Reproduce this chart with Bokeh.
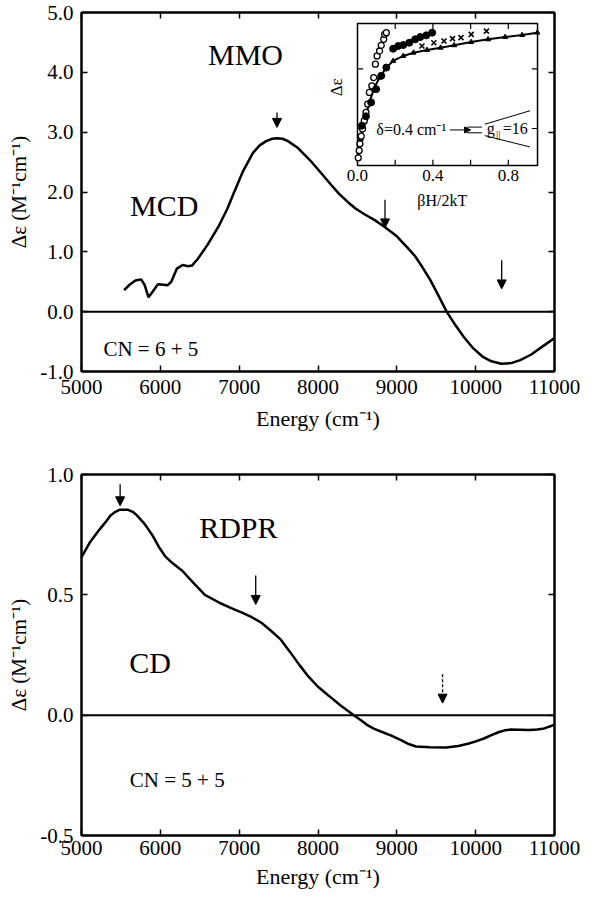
from bokeh.plotting import figure
from bokeh.models import (Range1d, LinearAxis, FixedTicker, Span, Arrow, NormalHead,
                          Label, ColumnDataSource, NumeralTickFormatter)
from bokeh.layouts import column
from bokeh.embed import file_html
from bokeh.resources import INLINE
from bokeh.core.properties import value

FONT = "Liberation Serif"

# ---------------- data ----------------
energy_ticks = [5000, 6000, 7000, 8000, 9000, 10000, 11000]

# MMO MCD spectrum
mcd_x = [5540, 5610, 5684, 5756, 5800, 5850, 5895, 5971, 6043, 6091, 6139, 6210, 6282, 6354, 6402,
         6474, 6600, 6737, 6850, 6928, 7050, 7173, 7260, 7342, 7420, 7480, 7550, 7620, 7750,
         7900, 8050, 8160, 8268, 8380, 8480, 8600, 8720, 8842, 9000, 9129, 9230, 9321, 9420,
         9512, 9632, 9740, 9847, 9960, 10086, 10200, 10325, 10450, 10565, 10700, 10850, 11000]
mcd_y = [0.36, 0.45, 0.52, 0.54, 0.45, 0.24, 0.32, 0.46, 0.45, 0.44, 0.50, 0.72, 0.78, 0.76, 0.77,
         0.88, 1.12, 1.42, 1.72, 1.97, 2.35, 2.65, 2.78, 2.85, 2.89, 2.90, 2.89, 2.85, 2.73,
         2.53, 2.30, 2.13, 1.97, 1.83, 1.72, 1.62, 1.53, 1.42, 1.26, 1.08, 0.93, 0.75, 0.54,
         0.31, 0.00, -0.22, -0.42, -0.60, -0.75, -0.83, -0.87, -0.86, -0.81, -0.72, -0.58, -0.44]
mcd_yticks = [-1.0, 0.0, 1.0, 2.0, 3.0, 4.0, 5.0]
mcd_arrow_x = [7480, 8850, 10330]
mcd_arrow_top = [3.33, 1.87, 0.86]
mcd_arrow_tip = [3.08, 1.40, 0.38]

# inset (saturation magnetization)
inset_xticks = [0.2, 0.4, 0.6, 0.8]
inset_xlabels = ["0.0", "0.4", "0.8"]
inset_xlabel_pos = [0.0, 0.4, 0.8]
inset_yticks = [0.26, 0.68]
open_x = [0.004, 0.009, 0.013, 0.020, 0.027, 0.036, 0.045, 0.054, 0.063, 0.076, 0.086, 0.095,
          0.104, 0.117, 0.126, 0.139, 0.144, 0.153]
open_y = [0.054, 0.105, 0.152, 0.206, 0.257, 0.315, 0.374, 0.432, 0.514, 0.561, 0.619, 0.713,
          0.771, 0.806, 0.846, 0.888, 0.923, 0.935]
fill_x = [0.023, 0.045, 0.072, 0.099, 0.126, 0.153, 0.189, 0.216, 0.243, 0.275, 0.306, 0.333,
          0.365, 0.396]
fill_y = [0.280, 0.346, 0.444, 0.537, 0.631, 0.689, 0.822, 0.841, 0.848, 0.864, 0.888, 0.904,
          0.916, 0.935]
cross_x = [0.342, 0.405, 0.459, 0.504, 0.549, 0.603, 0.684]
cross_y = [0.841, 0.864, 0.876, 0.893, 0.900, 0.923, 0.946]
fit_x = [0.004, 0.018, 0.036, 0.063, 0.090, 0.117, 0.153, 0.189, 0.243, 0.297, 0.369, 0.441,
         0.513, 0.603, 0.693, 0.783, 0.873, 0.954]
fit_y = [0.058, 0.187, 0.304, 0.444, 0.549, 0.619, 0.689, 0.736, 0.771, 0.794, 0.813, 0.829,
         0.846, 0.869, 0.888, 0.904, 0.918, 0.935]

# RDPR CD spectrum
cd_x = [5000, 5110, 5225, 5300, 5368, 5430, 5488, 5584, 5650, 5703, 5800, 5895, 5980, 6062,
        6160, 6278, 6420, 6565, 6756, 6900, 7043, 7160, 7282, 7400, 7522, 7640, 7761, 7880,
        8000, 8140, 8287, 8455, 8540, 8622, 8713, 8813, 8930, 9053, 9150, 9244, 9420, 9627,
        9780, 9914, 10010, 10105, 10200, 10297, 10370, 10440, 10560, 10679, 10780, 10871, 11000]
cd_y = [0.657, 0.72, 0.77, 0.80, 0.83, 0.845, 0.854, 0.854, 0.845, 0.83, 0.795, 0.75, 0.70,
        0.66, 0.63, 0.60, 0.55, 0.50, 0.466, 0.445, 0.425, 0.407, 0.384, 0.352, 0.316, 0.265,
        0.21, 0.16, 0.118, 0.08, 0.04, 0.0, -0.02, -0.04, -0.057, -0.07, -0.085, -0.104,
        -0.12, -0.13, -0.133, -0.134, -0.128, -0.118, -0.108, -0.097, -0.083, -0.07, -0.063,
        -0.06, -0.061, -0.062, -0.06, -0.055, -0.04]
cd_yticks = [-0.5, 0.0, 0.5, 1.0]
cd_arrow_x = [5490, 7210, 9580]
cd_arrow_top = [0.96, 0.58, 0.17]
cd_arrow_tip = [0.87, 0.46, 0.05]


def base_fig(y0, y1, yticks, frame_h, top, bottom, tick_std, lab_std):
    p = figure(frame_width=473, frame_height=frame_h,
               x_range=Range1d(5000, 11000), y_range=Range1d(y0, y1),
               output_backend="svg", toolbar_location=None,
               min_border_left=81, min_border_right=26,
               min_border_top=top, min_border_bottom=bottom)
    p.grid.visible = False
    p.outline_line_color = "black"
    p.outline_line_width = 2
    p.background_fill_color = "white"
    p.border_fill_color = "white"
    p.xaxis.ticker = FixedTicker(ticks=energy_ticks)
    p.yaxis.ticker = FixedTicker(ticks=yticks)
    p.yaxis.formatter = NumeralTickFormatter(format="0.0")
    for ax in (p.xaxis[0], p.yaxis[0]):
        ax.axis_line_width = 2
        ax.axis_line_color = "black"
        ax.major_tick_in = 6
        ax.major_tick_out = 0
        ax.major_tick_line_width = 1.5
        ax.major_tick_line_color = "black"
        ax.minor_tick_line_color = None
        ax.major_label_text_font = FONT
        ax.major_label_text_font_size = "21px"
        ax.major_label_text_color = "black"
        ax.axis_label_text_font = FONT
        ax.axis_label_text_font_style = "normal"
        ax.axis_label_text_color = "black"
    p.xaxis.major_label_standoff = tick_std
    p.xaxis.axis_label = "Energy (cm\u207b\u00b9)"
    p.xaxis.axis_label_text_font_size = "22px"
    p.xaxis.axis_label_standoff = lab_std
    p.yaxis.major_label_standoff = 8
    p.yaxis.axis_label = "\u0394\u03b5 (M\u207b\u00b9cm\u207b\u00b9)"
    p.yaxis.axis_label_text_font_size = "21px"
    p.yaxis.axis_label_standoff = 6
    # mirrored tick axes (top / right), labels hidden
    top_ax = LinearAxis(ticker=FixedTicker(ticks=energy_ticks))
    right_ax = LinearAxis(ticker=FixedTicker(ticks=yticks))
    for ax in (top_ax, right_ax):
        ax.axis_line_width = 2
        ax.axis_line_color = "black"
        ax.major_tick_in = 6
        ax.major_tick_out = 0
        ax.major_tick_line_width = 1.5
        ax.major_tick_line_color = "black"
        ax.minor_tick_line_color = None
        ax.major_label_text_font_size = "1px"
        ax.major_label_text_alpha = 0
        ax.major_label_standoff = 0
    p.add_layout(top_ax, "above")
    p.add_layout(right_ax, "right")
    p.add_layout(Span(location=0, dimension="width", line_color="black", line_width=2))
    return p


def add_arrows(p, xs, tops, tips, dashes):
    for x, t, e, d in zip(xs, tops, tips, dashes):
        p.add_layout(Arrow(x_start=x, y_start=t, x_end=x, y_end=e,
                           line_width=1.3, line_color="black", line_dash=d,
                           end=NormalHead(size=9, fill_color="black", line_color="black")))


def lab(p, x, y, text, size, align="center", **kw):
    p.add_layout(Label(x=x, y=y, text=text, text_font=FONT, text_font_size=size,
                       text_align=align, text_baseline="middle", text_color="black", **kw))


# ---------------- top figure: MMO MCD ----------------
p1 = base_fig(-1.0, 5.0, mcd_yticks, 359, 12, 69, 8, 9)
p1.line(mcd_x, mcd_y, line_color="black", line_width=2.5)
add_arrows(p1, mcd_arrow_x, mcd_arrow_top, mcd_arrow_tip, ["solid"] * 3)
lab(p1, 7080, 4.30, "MMO", "30px")
lab(p1, 6050, 1.78, "MCD", "30px")
lab(p1, 5880, -0.62, "CN = 6 + 5", "21px")

# inset in its own coordinate system
p1.extra_x_ranges = {"ix": Range1d(-1.464, 1.045)}
p1.extra_y_ranges = {"iy": Range1d(-1.451, 1.077)}
ik = dict(x_range_name="ix", y_range_name="iy")
tk = dict(text_font=value(FONT), text_color="black")
p1.quad(left=[0], right=[0.955], bottom=[0], top=[1], fill_color="white",
        line_color="black", line_width=1.5, **ik)
p1.segment(x0=inset_xticks, x1=inset_xticks, y0=[0] * 4, y1=[0.04] * 4,
           line_color="black", line_width=1.2, **ik)
p1.segment(x0=inset_xticks, x1=inset_xticks, y0=[1] * 4, y1=[0.96] * 4,
           line_color="black", line_width=1.2, **ik)
p1.segment(x0=[0.955] * 2, x1=[0.925] * 2, y0=inset_yticks, y1=inset_yticks,
           line_color="black", line_width=1.2, **ik)
p1.segment(x0=[0] * 2, x1=[0.03] * 2, y0=inset_yticks, y1=inset_yticks,
           line_color="black", line_width=1.2, **ik)
p1.text(x=inset_xlabel_pos, y=[-0.03] * 3, text=inset_xlabels,
        text_font_size="17px", text_align="center", text_baseline="top", **tk, **ik)
p1.text(x=[0.45], y=[-0.19], text=["\u03b2H/2kT"],
        text_font_size="16px", text_align="center", text_baseline="top", **tk, **ik)
p1.text(x=[-0.06], y=[0.55], text=["\u0394\u03b5"],
        text_font_size="17px", text_align="center", text_baseline="bottom",
        angle=1.5708, **tk, **ik)
p1.line(fit_x, fit_y, line_color="black", line_width=2, **ik)
p1.scatter(fit_x, fit_y, marker="triangle", size=5, fill_color="black", line_color="black", **ik)
p1.scatter(open_x, open_y, marker="circle", size=6, fill_color="white", line_color="black",
           line_width=1.3, **ik)
p1.scatter(fill_x, fill_y, marker="circle", size=7, fill_color="black", line_color="black", **ik)
p1.scatter(cross_x, cross_y, marker="x", size=7, line_color="black", line_width=1.6, **ik)
p1.text(x=[0.10], y=[0.25], text=["\u03b4=0.4 cm\u207b\u00b9"],
        text_font_size="16px", text_align="left", text_baseline="middle", **tk, **ik)
p1.add_layout(Arrow(x_start=0.49, y_start=0.25, x_end=0.60, y_end=0.25, line_width=1,
                    line_color="black",
                    end=NormalHead(size=6, fill_color="black", line_color="black"), **ik))
p1.segment(x0=[0.58, 0.58], x1=[0.66, 0.66], y0=[0.27, 0.23], y1=[0.27, 0.23],
           line_color="black", line_width=1, **ik)
p1.segment(x0=[0.675, 0.675], x1=[0.915, 0.915], y0=[0.29, 0.21], y1=[0.385, 0.13],
           line_color="black", line_width=1, **ik)
p1.text(x=[0.685], y=[0.26], text=["g"], text_font_size="16px",
        text_align="left", text_baseline="middle", **tk, **ik)
p1.text(x=[0.735], y=[0.22], text=["||"], text_font_size="11px",
        text_align="left", text_baseline="middle", **tk, **ik)
p1.text(x=[0.77], y=[0.26], text=["=16"], text_font_size="16px",
        text_align="left", text_baseline="middle", **tk, **ik)

# ---------------- bottom figure: RDPR CD ----------------
p2 = base_fig(-0.5, 1.0, cd_yticks, 361, 34, 55, 5, 6)
p2.line(cd_x, cd_y, line_color="black", line_width=2.5)
add_arrows(p2, cd_arrow_x, cd_arrow_top, cd_arrow_tip, ["solid", "solid", "3 2"])
lab(p2, 6990, 0.78, "RDPR", "30px")
lab(p2, 5870, 0.22, "CD", "30px")
lab(p2, 6215, -0.27, "CN = 5 + 5", "21px")

layout = column(p1, p2)
open("out.html", "w").write(file_html(layout, INLINE))
